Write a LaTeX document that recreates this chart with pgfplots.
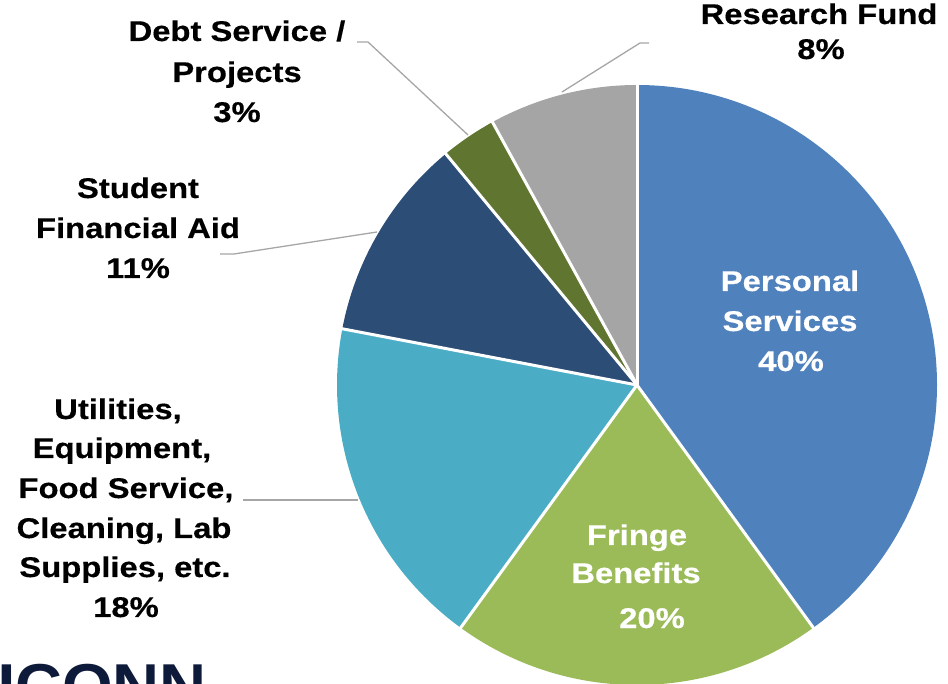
\documentclass[border=0pt]{standalone}
\usepackage{pgfplots}
\pgfplotsset{compat=1.18}
\usepackage{fontspec}
\setmainfont{Liberation Sans}[FakeStretch=1.15, BoldFeatures={FakeBold=0.4}]
\newfontfamily\logofont{Liberation Sans}[FakeStretch=1.05]

\definecolor{cPS}{HTML}{4F81BD}
\definecolor{cFB}{HTML}{9BBB59}
\definecolor{cUT}{HTML}{4BACC6}
\definecolor{cSA}{HTML}{2C4D75}
\definecolor{cDS}{HTML}{5F7530}
\definecolor{cRF}{HTML}{A5A5A5}
\definecolor{leader}{HTML}{A6A6A6}
\definecolor{logo}{HTML}{0E1A3A}

% share of each slice, clockwise from 12 o'clock
\def\slices{40/cPS,20/cFB,18/cUT,11/cSA,3/cDS,8/cRF}

% one label line, centred on x, baseline at y
\newcommand\lbl[4][black]{\node[anchor=base,inner sep=0pt,text=#1] at (axis cs:#2,#3) {#4};}

\begin{document}
\begin{tikzpicture}
\begin{axis}[
    x=1pt, y=1pt,
    xmin=0, xmax=948, ymin=0, ymax=683,
    hide axis,
    clip=true,
]
\gdef\cum{0}
\foreach \v/\c in \slices {
    \pgfmathsetmacro\a{90-3.6*\cum}
    \pgfmathsetmacro\b{\a-3.6*\v}
    \edef\temp{\noexpand\fill[\c] (axis cs:637,298) -- ++(\a:300pt)
        arc[start angle=\a, end angle=\b, radius=300pt] -- cycle;}
    \temp
    \pgfmathsetmacro\n{\cum+\v}
    \xdef\cum{\n}
}
\gdef\cum{0}
\foreach \v/\c in \slices {
    \pgfmathsetmacro\a{90-3.6*\cum}
    \edef\temp{\noexpand\draw[white, line width=3pt] (axis cs:637,298) -- ++(\a:302pt);}
    \temp
    \pgfmathsetmacro\n{\cum+\v}
    \xdef\cum{\n}
}

% leader lines
\draw[leader, line width=1.3pt] (axis cs:357,641) -- (axis cs:368,641) -- (axis cs:468,548);
\draw[leader, line width=1.3pt] (axis cs:649,640) -- (axis cs:640,640) -- (axis cs:562,591);
\draw[leader, line width=1.3pt] (axis cs:220,429) -- (axis cs:234,429) -- (axis cs:377,451);
\draw[leader, line width=1.3pt] (axis cs:243,183) -- (axis cs:358,183);

\fontsize{28.5}{32}\selectfont\bfseries
\lbl{237}{642}{Debt Service /}
\lbl{237}{601}{Projects}
\lbl{237}{561}{3\%}
\lbl{819}{659}{Research Fund}
\lbl{821}{624}{8\%}
\lbl{138}{485}{Student}
\lbl{138}{445}{Financial Aid}
\lbl{138}{405}{11\%}
\lbl{118}{264}{Utilities,}
\lbl{122}{225}{Equipment,}
\lbl{126}{185}{Food Service,}
\lbl{124}{145}{Cleaning, Lab}
\lbl{125}{106}{Supplies, etc.}
\lbl{126}{66}{18\%}
\lbl[white]{790}{392}{Personal}
\lbl[white]{790}{352}{Services}
\lbl[white]{791}{312}{40\%}
\lbl[white]{637}{138}{Fringe}
\lbl[white]{636}{100}{Benefits}
\lbl[white]{652}{55}{20\%}

\node[anchor=base east, inner sep=0pt, text=logo,
      font=\logofont\fontsize{62}{62}\selectfont\bfseries] at (axis cs:207,-24) {UCONN};
\end{axis}
\pgfresetboundingbox
\path (0,0) rectangle (948pt,683pt);
\end{tikzpicture}
\end{document}
